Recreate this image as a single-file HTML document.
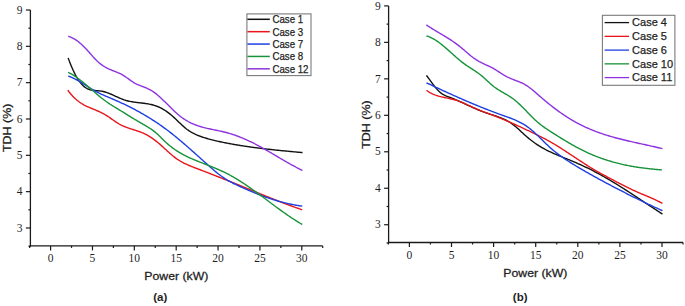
<!DOCTYPE html>
<html><head><meta charset="utf-8"><style>
html,body{margin:0;padding:0;background:#fff;width:685px;height:306px;overflow:hidden}
svg{display:block;font-family:"Liberation Sans",sans-serif}
</style></head><body>
<svg width="685" height="306" viewBox="0 0 685 306">
<rect width="685" height="306" fill="#fff"/>
<path d="M30.40,10.00 V246.55" stroke="#1a1a1a" stroke-width="1.3" fill="none"/>
<path d="M29.75,245.90 H322.70" stroke="#1a1a1a" stroke-width="1.3" fill="none"/>
<path d="M25.90,10.00 H30.40" stroke="#1a1a1a" stroke-width="1.2"/>
<text x="22.60" y="13.70" font-size="11.5" text-anchor="end" fill="#1f1f1f" font-family="Liberation Serif">9</text>
<path d="M28.40,28.16 H30.40" stroke="#1a1a1a" stroke-width="1.2"/>
<path d="M25.90,46.33 H30.40" stroke="#1a1a1a" stroke-width="1.2"/>
<text x="22.60" y="50.03" font-size="11.5" text-anchor="end" fill="#1f1f1f" font-family="Liberation Serif">8</text>
<path d="M28.40,64.50 H30.40" stroke="#1a1a1a" stroke-width="1.2"/>
<path d="M25.90,82.66 H30.40" stroke="#1a1a1a" stroke-width="1.2"/>
<text x="22.60" y="86.36" font-size="11.5" text-anchor="end" fill="#1f1f1f" font-family="Liberation Serif">7</text>
<path d="M28.40,100.82 H30.40" stroke="#1a1a1a" stroke-width="1.2"/>
<path d="M25.90,118.99 H30.40" stroke="#1a1a1a" stroke-width="1.2"/>
<text x="22.60" y="122.69" font-size="11.5" text-anchor="end" fill="#1f1f1f" font-family="Liberation Serif">6</text>
<path d="M28.40,137.16 H30.40" stroke="#1a1a1a" stroke-width="1.2"/>
<path d="M25.90,155.32 H30.40" stroke="#1a1a1a" stroke-width="1.2"/>
<text x="22.60" y="159.02" font-size="11.5" text-anchor="end" fill="#1f1f1f" font-family="Liberation Serif">5</text>
<path d="M28.40,173.48 H30.40" stroke="#1a1a1a" stroke-width="1.2"/>
<path d="M25.90,191.65 H30.40" stroke="#1a1a1a" stroke-width="1.2"/>
<text x="22.60" y="195.35" font-size="11.5" text-anchor="end" fill="#1f1f1f" font-family="Liberation Serif">4</text>
<path d="M28.40,209.81 H30.40" stroke="#1a1a1a" stroke-width="1.2"/>
<path d="M25.90,227.98 H30.40" stroke="#1a1a1a" stroke-width="1.2"/>
<text x="22.60" y="231.68" font-size="11.5" text-anchor="end" fill="#1f1f1f" font-family="Liberation Serif">3</text>
<path d="M28.40,246.14 H30.40" stroke="#1a1a1a" stroke-width="1.2"/>
<path d="M29.67,245.90 V247.90" stroke="#1a1a1a" stroke-width="1.2"/>
<path d="M50.60,245.90 V250.40" stroke="#1a1a1a" stroke-width="1.2"/>
<text x="50.60" y="261.90" font-size="11.5" text-anchor="middle" fill="#1f1f1f" font-family="Liberation Serif">0</text>
<path d="M71.53,245.90 V247.90" stroke="#1a1a1a" stroke-width="1.2"/>
<path d="M92.47,245.90 V250.40" stroke="#1a1a1a" stroke-width="1.2"/>
<text x="92.47" y="261.90" font-size="11.5" text-anchor="middle" fill="#1f1f1f" font-family="Liberation Serif">5</text>
<path d="M113.40,245.90 V247.90" stroke="#1a1a1a" stroke-width="1.2"/>
<path d="M134.33,245.90 V250.40" stroke="#1a1a1a" stroke-width="1.2"/>
<text x="134.33" y="261.90" font-size="11.5" text-anchor="middle" fill="#1f1f1f" font-family="Liberation Serif">10</text>
<path d="M155.26,245.90 V247.90" stroke="#1a1a1a" stroke-width="1.2"/>
<path d="M176.19,245.90 V250.40" stroke="#1a1a1a" stroke-width="1.2"/>
<text x="176.19" y="261.90" font-size="11.5" text-anchor="middle" fill="#1f1f1f" font-family="Liberation Serif">15</text>
<path d="M197.13,245.90 V247.90" stroke="#1a1a1a" stroke-width="1.2"/>
<path d="M218.06,245.90 V250.40" stroke="#1a1a1a" stroke-width="1.2"/>
<text x="218.06" y="261.90" font-size="11.5" text-anchor="middle" fill="#1f1f1f" font-family="Liberation Serif">20</text>
<path d="M238.99,245.90 V247.90" stroke="#1a1a1a" stroke-width="1.2"/>
<path d="M259.93,245.90 V250.40" stroke="#1a1a1a" stroke-width="1.2"/>
<text x="259.93" y="261.90" font-size="11.5" text-anchor="middle" fill="#1f1f1f" font-family="Liberation Serif">25</text>
<path d="M280.86,245.90 V247.90" stroke="#1a1a1a" stroke-width="1.2"/>
<path d="M301.79,245.90 V250.40" stroke="#1a1a1a" stroke-width="1.2"/>
<text x="301.79" y="261.90" font-size="11.5" text-anchor="middle" fill="#1f1f1f" font-family="Liberation Serif">30</text>
<path d="M322.72,245.90 V247.90" stroke="#1a1a1a" stroke-width="1.2"/>
<g transform="translate(0.25,0.4)"><path d="M67.90,57.49 L68.90,60.22 L69.90,62.82 L70.90,65.30 L71.90,67.66 L72.90,69.89 L73.90,71.99 L74.90,73.97 L75.90,75.83 L76.90,77.56 L77.90,79.17 L78.90,80.65 L79.90,82.01 L80.90,83.24 L81.90,84.35 L82.90,85.34 L83.90,86.21 L84.90,86.96 L85.90,87.60 L86.90,88.16 L87.90,88.62 L88.90,89.00 L89.90,89.32 L90.90,89.57 L91.90,89.78 L92.90,89.94 L93.90,90.06 L94.90,90.16 L95.90,90.24 L96.90,90.32 L97.90,90.39 L98.90,90.48 L99.90,90.58 L100.90,90.71 L101.90,90.88 L102.90,91.09 L103.90,91.33 L104.90,91.61 L105.90,91.93 L106.90,92.27 L107.90,92.64 L108.90,93.03 L109.90,93.44 L110.90,93.86 L111.90,94.30 L112.90,94.75 L113.90,95.20 L114.90,95.66 L115.90,96.12 L116.90,96.58 L117.90,97.03 L118.90,97.47 L119.90,97.90 L120.90,98.32 L121.90,98.71 L122.90,99.09 L123.90,99.44 L124.90,99.76 L125.90,100.06 L126.90,100.33 L127.90,100.58 L128.90,100.81 L129.90,101.01 L130.90,101.21 L131.90,101.38 L132.90,101.54 L133.90,101.69 L134.90,101.83 L135.90,101.96 L136.90,102.09 L137.90,102.21 L138.90,102.32 L139.90,102.44 L140.90,102.55 L141.90,102.67 L142.90,102.80 L143.90,102.92 L144.90,103.06 L145.90,103.21 L146.90,103.36 L147.90,103.53 L148.90,103.72 L149.90,103.92 L150.90,104.14 L151.90,104.38 L152.90,104.65 L153.90,104.93 L154.90,105.25 L155.90,105.59 L156.90,105.96 L157.90,106.36 L158.90,106.80 L159.90,107.27 L160.90,107.77 L161.90,108.31 L162.90,108.88 L163.90,109.48 L164.90,110.12 L165.90,110.78 L166.90,111.48 L167.90,112.21 L168.90,112.98 L169.90,113.77 L170.90,114.59 L171.90,115.44 L172.90,116.32 L173.90,117.22 L174.90,118.15 L175.90,119.10 L176.90,120.06 L177.90,121.03 L178.90,121.99 L179.90,122.95 L180.90,123.90 L181.90,124.83 L182.90,125.74 L183.90,126.62 L184.90,127.47 L185.90,128.28 L186.90,129.05 L187.90,129.77 L188.90,130.46 L189.90,131.10 L190.90,131.71 L191.90,132.28 L192.90,132.82 L193.90,133.33 L194.90,133.81 L195.90,134.26 L196.90,134.70 L197.90,135.11 L198.90,135.50 L199.90,135.87 L200.90,136.22 L201.90,136.57 L202.90,136.90 L203.90,137.22 L204.90,137.54 L205.90,137.84 L206.90,138.14 L207.90,138.43 L208.90,138.70 L209.90,138.98 L210.90,139.24 L211.90,139.50 L212.90,139.75 L213.90,139.99 L214.90,140.23 L215.90,140.46 L216.90,140.69 L217.90,140.91 L218.90,141.13 L219.90,141.35 L220.90,141.56 L221.90,141.77 L222.90,141.97 L223.90,142.17 L224.90,142.37 L225.90,142.57 L226.90,142.76 L227.90,142.95 L228.90,143.14 L229.90,143.33 L230.90,143.51 L231.90,143.69 L232.90,143.87 L233.90,144.05 L234.90,144.22 L235.90,144.39 L236.90,144.56 L237.90,144.73 L238.90,144.89 L239.90,145.05 L240.90,145.21 L241.90,145.37 L242.90,145.53 L243.90,145.68 L244.90,145.83 L245.90,145.98 L246.90,146.13 L247.90,146.27 L248.90,146.41 L249.90,146.56 L250.90,146.69 L251.90,146.83 L252.90,146.97 L253.90,147.10 L254.90,147.23 L255.90,147.36 L256.90,147.49 L257.90,147.62 L258.90,147.75 L259.90,147.87 L260.90,147.99 L261.90,148.11 L262.90,148.23 L263.90,148.35 L264.90,148.47 L265.90,148.59 L266.90,148.70 L267.90,148.81 L268.90,148.92 L269.90,149.04 L270.90,149.15 L271.90,149.25 L272.90,149.36 L273.90,149.47 L274.90,149.57 L275.90,149.68 L276.90,149.78 L277.90,149.88 L278.90,149.98 L279.90,150.08 L280.90,150.18 L281.90,150.28 L282.90,150.38 L283.90,150.48 L284.90,150.58 L285.90,150.67 L286.90,150.77 L287.90,150.86 L288.90,150.96 L289.90,151.05 L290.90,151.15 L291.90,151.24 L292.90,151.33 L293.90,151.43 L294.90,151.52 L295.90,151.61 L296.90,151.70 L297.90,151.80 L298.90,151.89 L299.90,151.98 L300.90,152.07 L301.90,152.16 L302.30,152.20" stroke="#111111" stroke-width="1.40" fill="none" stroke-linejoin="round" stroke-linecap="butt"/>
<path d="M67.50,89.79 L68.50,91.10 L69.50,92.34 L70.50,93.53 L71.50,94.67 L72.50,95.75 L73.50,96.78 L74.50,97.75 L75.50,98.68 L76.50,99.56 L77.50,100.38 L78.50,101.16 L79.50,101.90 L80.50,102.58 L81.50,103.23 L82.50,103.83 L83.50,104.40 L84.50,104.94 L85.50,105.44 L86.50,105.93 L87.50,106.39 L88.50,106.83 L89.50,107.26 L90.50,107.68 L91.50,108.09 L92.50,108.50 L93.50,108.91 L94.50,109.32 L95.50,109.74 L96.50,110.16 L97.50,110.60 L98.50,111.04 L99.50,111.50 L100.50,111.98 L101.50,112.48 L102.50,112.99 L103.50,113.53 L104.50,114.09 L105.50,114.68 L106.50,115.30 L107.50,115.95 L108.50,116.62 L109.50,117.30 L110.50,118.00 L111.50,118.70 L112.50,119.40 L113.50,120.10 L114.50,120.79 L115.50,121.46 L116.50,122.12 L117.50,122.75 L118.50,123.35 L119.50,123.92 L120.50,124.45 L121.50,124.95 L122.50,125.42 L123.50,125.86 L124.50,126.28 L125.50,126.68 L126.50,127.06 L127.50,127.42 L128.50,127.77 L129.50,128.10 L130.50,128.43 L131.50,128.75 L132.50,129.06 L133.50,129.38 L134.50,129.69 L135.50,130.01 L136.50,130.34 L137.50,130.67 L138.50,131.02 L139.50,131.38 L140.50,131.76 L141.50,132.15 L142.50,132.57 L143.50,133.01 L144.50,133.47 L145.50,133.97 L146.50,134.50 L147.50,135.05 L148.50,135.64 L149.50,136.25 L150.50,136.89 L151.50,137.55 L152.50,138.24 L153.50,138.96 L154.50,139.70 L155.50,140.46 L156.50,141.25 L157.50,142.06 L158.50,142.88 L159.50,143.73 L160.50,144.60 L161.50,145.49 L162.50,146.40 L163.50,147.31 L164.50,148.24 L165.50,149.17 L166.50,150.09 L167.50,151.01 L168.50,151.92 L169.50,152.81 L170.50,153.69 L171.50,154.54 L172.50,155.38 L173.50,156.18 L174.50,156.96 L175.50,157.71 L176.50,158.43 L177.50,159.11 L178.50,159.76 L179.50,160.38 L180.50,160.98 L181.50,161.54 L182.50,162.09 L183.50,162.61 L184.50,163.11 L185.50,163.59 L186.50,164.05 L187.50,164.50 L188.50,164.93 L189.50,165.35 L190.50,165.76 L191.50,166.16 L192.50,166.55 L193.50,166.94 L194.50,167.33 L195.50,167.71 L196.50,168.09 L197.50,168.47 L198.50,168.86 L199.50,169.24 L200.50,169.62 L201.50,170.01 L202.50,170.39 L203.50,170.78 L204.50,171.16 L205.50,171.55 L206.50,171.94 L207.50,172.32 L208.50,172.71 L209.50,173.10 L210.50,173.49 L211.50,173.88 L212.50,174.27 L213.50,174.66 L214.50,175.05 L215.50,175.44 L216.50,175.83 L217.50,176.22 L218.50,176.62 L219.50,177.01 L220.50,177.40 L221.50,177.80 L222.50,178.19 L223.50,178.59 L224.50,178.99 L225.50,179.38 L226.50,179.78 L227.50,180.18 L228.50,180.58 L229.50,180.98 L230.50,181.38 L231.50,181.78 L232.50,182.19 L233.50,182.59 L234.50,182.99 L235.50,183.40 L236.50,183.80 L237.50,184.21 L238.50,184.62 L239.50,185.03 L240.50,185.43 L241.50,185.84 L242.50,186.25 L243.50,186.66 L244.50,187.07 L245.50,187.48 L246.50,187.89 L247.50,188.30 L248.50,188.71 L249.50,189.12 L250.50,189.53 L251.50,189.94 L252.50,190.35 L253.50,190.76 L254.50,191.17 L255.50,191.58 L256.50,191.99 L257.50,192.40 L258.50,192.81 L259.50,193.22 L260.50,193.63 L261.50,194.04 L262.50,194.44 L263.50,194.85 L264.50,195.25 L265.50,195.66 L266.50,196.06 L267.50,196.46 L268.50,196.86 L269.50,197.27 L270.50,197.67 L271.50,198.06 L272.50,198.46 L273.50,198.86 L274.50,199.25 L275.50,199.64 L276.50,200.04 L277.50,200.43 L278.50,200.82 L279.50,201.20 L280.50,201.59 L281.50,201.97 L282.50,202.36 L283.50,202.74 L284.50,203.12 L285.50,203.49 L286.50,203.87 L287.50,204.24 L288.50,204.61 L289.50,204.98 L290.50,205.35 L291.50,205.71 L292.50,206.08 L293.50,206.44 L294.50,206.79 L295.50,207.15 L296.50,207.50 L297.50,207.85 L298.50,208.20 L299.50,208.55 L300.50,208.89 L301.50,209.23 L302.00,209.40" stroke="#e8161b" stroke-width="1.40" fill="none" stroke-linejoin="round" stroke-linecap="butt"/>
<path d="M67.90,75.70 L68.90,76.01 L69.90,76.37 L70.90,76.75 L71.90,77.17 L72.90,77.62 L73.90,78.10 L74.90,78.61 L75.90,79.13 L76.90,79.68 L77.90,80.25 L78.90,80.84 L79.90,81.44 L80.90,82.05 L81.90,82.67 L82.90,83.30 L83.90,83.94 L84.90,84.58 L85.90,85.22 L86.90,85.86 L87.90,86.49 L88.90,87.12 L89.90,87.75 L90.90,88.36 L91.90,88.96 L92.90,89.54 L93.90,90.11 L94.90,90.66 L95.90,91.19 L96.90,91.71 L97.90,92.22 L98.90,92.71 L99.90,93.19 L100.90,93.66 L101.90,94.12 L102.90,94.57 L103.90,95.01 L104.90,95.45 L105.90,95.88 L106.90,96.31 L107.90,96.73 L108.90,97.15 L109.90,97.58 L110.90,98.00 L111.90,98.42 L112.90,98.85 L113.90,99.28 L114.90,99.71 L115.90,100.15 L116.90,100.59 L117.90,101.04 L118.90,101.49 L119.90,101.94 L120.90,102.40 L121.90,102.87 L122.90,103.33 L123.90,103.81 L124.90,104.29 L125.90,104.77 L126.90,105.26 L127.90,105.75 L128.90,106.24 L129.90,106.75 L130.90,107.25 L131.90,107.77 L132.90,108.29 L133.90,108.81 L134.90,109.34 L135.90,109.87 L136.90,110.41 L137.90,110.96 L138.90,111.51 L139.90,112.07 L140.90,112.63 L141.90,113.20 L142.90,113.78 L143.90,114.36 L144.90,114.95 L145.90,115.54 L146.90,116.15 L147.90,116.75 L148.90,117.37 L149.90,117.99 L150.90,118.62 L151.90,119.25 L152.90,119.89 L153.90,120.54 L154.90,121.20 L155.90,121.86 L156.90,122.53 L157.90,123.21 L158.90,123.89 L159.90,124.59 L160.90,125.28 L161.90,125.99 L162.90,126.71 L163.90,127.43 L164.90,128.16 L165.90,128.90 L166.90,129.65 L167.90,130.40 L168.90,131.17 L169.90,131.94 L170.90,132.72 L171.90,133.50 L172.90,134.30 L173.90,135.10 L174.90,135.91 L175.90,136.72 L176.90,137.54 L177.90,138.37 L178.90,139.20 L179.90,140.04 L180.90,140.89 L181.90,141.74 L182.90,142.59 L183.90,143.45 L184.90,144.31 L185.90,145.18 L186.90,146.05 L187.90,146.92 L188.90,147.80 L189.90,148.68 L190.90,149.57 L191.90,150.45 L192.90,151.34 L193.90,152.23 L194.90,153.12 L195.90,154.02 L196.90,154.91 L197.90,155.81 L198.90,156.70 L199.90,157.60 L200.90,158.50 L201.90,159.40 L202.90,160.29 L203.90,161.19 L204.90,162.09 L205.90,162.98 L206.90,163.87 L207.90,164.77 L208.90,165.66 L209.90,166.54 L210.90,167.43 L211.90,168.30 L212.90,169.17 L213.90,170.03 L214.90,170.88 L215.90,171.71 L216.90,172.53 L217.90,173.33 L218.90,174.11 L219.90,174.87 L220.90,175.60 L221.90,176.32 L222.90,177.02 L223.90,177.69 L224.90,178.34 L225.90,178.98 L226.90,179.59 L227.90,180.18 L228.90,180.75 L229.90,181.30 L230.90,181.83 L231.90,182.35 L232.90,182.85 L233.90,183.35 L234.90,183.83 L235.90,184.30 L236.90,184.77 L237.90,185.23 L238.90,185.69 L239.90,186.14 L240.90,186.60 L241.90,187.05 L242.90,187.50 L243.90,187.94 L244.90,188.39 L245.90,188.83 L246.90,189.27 L247.90,189.70 L248.90,190.13 L249.90,190.56 L250.90,190.98 L251.90,191.40 L252.90,191.82 L253.90,192.23 L254.90,192.64 L255.90,193.05 L256.90,193.45 L257.90,193.84 L258.90,194.23 L259.90,194.62 L260.90,195.00 L261.90,195.38 L262.90,195.75 L263.90,196.12 L264.90,196.48 L265.90,196.83 L266.90,197.18 L267.90,197.53 L268.90,197.87 L269.90,198.20 L270.90,198.53 L271.90,198.85 L272.90,199.16 L273.90,199.47 L274.90,199.78 L275.90,200.07 L276.90,200.36 L277.90,200.65 L278.90,200.93 L279.90,201.20 L280.90,201.47 L281.90,201.73 L282.90,201.99 L283.90,202.24 L284.90,202.49 L285.90,202.73 L286.90,202.96 L287.90,203.19 L288.90,203.41 L289.90,203.63 L290.90,203.84 L291.90,204.04 L292.90,204.24 L293.90,204.44 L294.90,204.62 L295.90,204.81 L296.90,204.98 L297.90,205.15 L298.90,205.32 L299.90,205.48 L300.90,205.63 L301.90,205.78 L302.00,205.80" stroke="#1d3fe2" stroke-width="1.40" fill="none" stroke-linejoin="round" stroke-linecap="butt"/>
<path d="M67.90,71.89 L68.90,72.38 L69.90,72.89 L70.90,73.44 L71.90,74.02 L72.90,74.63 L73.90,75.26 L74.90,75.92 L75.90,76.61 L76.90,77.32 L77.90,78.05 L78.90,78.80 L79.90,79.57 L80.90,80.36 L81.90,81.16 L82.90,81.97 L83.90,82.80 L84.90,83.64 L85.90,84.49 L86.90,85.35 L87.90,86.21 L88.90,87.08 L89.90,87.95 L90.90,88.82 L91.90,89.70 L92.90,90.57 L93.90,91.44 L94.90,92.30 L95.90,93.16 L96.90,94.02 L97.90,94.86 L98.90,95.70 L99.90,96.52 L100.90,97.33 L101.90,98.12 L102.90,98.90 L103.90,99.66 L104.90,100.40 L105.90,101.12 L106.90,101.82 L107.90,102.51 L108.90,103.18 L109.90,103.83 L110.90,104.48 L111.90,105.11 L112.90,105.73 L113.90,106.35 L114.90,106.96 L115.90,107.57 L116.90,108.17 L117.90,108.77 L118.90,109.38 L119.90,109.98 L120.90,110.59 L121.90,111.21 L122.90,111.82 L123.90,112.44 L124.90,113.06 L125.90,113.68 L126.90,114.30 L127.90,114.92 L128.90,115.54 L129.90,116.16 L130.90,116.77 L131.90,117.39 L132.90,118.00 L133.90,118.61 L134.90,119.21 L135.90,119.81 L136.90,120.41 L137.90,121.00 L138.90,121.58 L139.90,122.16 L140.90,122.74 L141.90,123.31 L142.90,123.88 L143.90,124.45 L144.90,125.04 L145.90,125.63 L146.90,126.23 L147.90,126.84 L148.90,127.48 L149.90,128.13 L150.90,128.80 L151.90,129.50 L152.90,130.22 L153.90,130.98 L154.90,131.77 L155.90,132.59 L156.90,133.45 L157.90,134.36 L158.90,135.30 L159.90,136.28 L160.90,137.29 L161.90,138.31 L162.90,139.32 L163.90,140.30 L164.90,141.26 L165.90,142.19 L166.90,143.09 L167.90,143.96 L168.90,144.80 L169.90,145.62 L170.90,146.41 L171.90,147.17 L172.90,147.92 L173.90,148.64 L174.90,149.33 L175.90,150.01 L176.90,150.66 L177.90,151.29 L178.90,151.91 L179.90,152.50 L180.90,153.08 L181.90,153.64 L182.90,154.19 L183.90,154.72 L184.90,155.23 L185.90,155.74 L186.90,156.23 L187.90,156.70 L188.90,157.17 L189.90,157.62 L190.90,158.07 L191.90,158.51 L192.90,158.94 L193.90,159.36 L194.90,159.78 L195.90,160.19 L196.90,160.59 L197.90,160.99 L198.90,161.39 L199.90,161.79 L200.90,162.18 L201.90,162.57 L202.90,162.97 L203.90,163.36 L204.90,163.75 L205.90,164.14 L206.90,164.53 L207.90,164.93 L208.90,165.32 L209.90,165.72 L210.90,166.12 L211.90,166.53 L212.90,166.93 L213.90,167.35 L214.90,167.76 L215.90,168.18 L216.90,168.61 L217.90,169.04 L218.90,169.48 L219.90,169.93 L220.90,170.38 L221.90,170.84 L222.90,171.31 L223.90,171.79 L224.90,172.27 L225.90,172.77 L226.90,173.27 L227.90,173.79 L228.90,174.32 L229.90,174.85 L230.90,175.40 L231.90,175.96 L232.90,176.53 L233.90,177.11 L234.90,177.70 L235.90,178.30 L236.90,178.90 L237.90,179.52 L238.90,180.14 L239.90,180.77 L240.90,181.41 L241.90,182.06 L242.90,182.72 L243.90,183.38 L244.90,184.05 L245.90,184.72 L246.90,185.40 L247.90,186.09 L248.90,186.78 L249.90,187.48 L250.90,188.18 L251.90,188.89 L252.90,189.60 L253.90,190.32 L254.90,191.04 L255.90,191.76 L256.90,192.49 L257.90,193.22 L258.90,193.95 L259.90,194.69 L260.90,195.42 L261.90,196.16 L262.90,196.90 L263.90,197.65 L264.90,198.39 L265.90,199.13 L266.90,199.88 L267.90,200.62 L268.90,201.37 L269.90,202.11 L270.90,202.86 L271.90,203.60 L272.90,204.34 L273.90,205.08 L274.90,205.82 L275.90,206.55 L276.90,207.29 L277.90,208.02 L278.90,208.75 L279.90,209.47 L280.90,210.19 L281.90,210.91 L282.90,211.63 L283.90,212.34 L284.90,213.04 L285.90,213.74 L286.90,214.44 L287.90,215.13 L288.90,215.81 L289.90,216.49 L290.90,217.16 L291.90,217.82 L292.90,218.48 L293.90,219.13 L294.90,219.77 L295.90,220.41 L296.90,221.04 L297.90,221.66 L298.90,222.27 L299.90,222.87 L300.90,223.46 L301.90,224.05 L302.00,224.10" stroke="#17933a" stroke-width="1.40" fill="none" stroke-linejoin="round" stroke-linecap="butt"/>
<path d="M67.90,35.91 L68.90,36.18 L69.90,36.52 L70.90,36.92 L71.90,37.37 L72.90,37.87 L73.90,38.43 L74.90,39.04 L75.90,39.70 L76.90,40.41 L77.90,41.16 L78.90,41.95 L79.90,42.79 L80.90,43.67 L81.90,44.58 L82.90,45.53 L83.90,46.52 L84.90,47.54 L85.90,48.59 L86.90,49.67 L87.90,50.77 L88.90,51.91 L89.90,53.05 L90.90,54.21 L91.90,55.36 L92.90,56.49 L93.90,57.60 L94.90,58.67 L95.90,59.70 L96.90,60.67 L97.90,61.58 L98.90,62.44 L99.90,63.25 L100.90,64.01 L101.90,64.72 L102.90,65.40 L103.90,66.03 L104.90,66.62 L105.90,67.17 L106.90,67.70 L107.90,68.19 L108.90,68.66 L109.90,69.10 L110.90,69.53 L111.90,69.94 L112.90,70.34 L113.90,70.74 L114.90,71.14 L115.90,71.54 L116.90,71.95 L117.90,72.38 L118.90,72.83 L119.90,73.30 L120.90,73.80 L121.90,74.33 L122.90,74.90 L123.90,75.51 L124.90,76.17 L125.90,76.86 L126.90,77.57 L127.90,78.29 L128.90,79.02 L129.90,79.75 L130.90,80.46 L131.90,81.14 L132.90,81.79 L133.90,82.39 L134.90,82.94 L135.90,83.45 L136.90,83.93 L137.90,84.37 L138.90,84.79 L139.90,85.19 L140.90,85.57 L141.90,85.95 L142.90,86.33 L143.90,86.70 L144.90,87.09 L145.90,87.50 L146.90,87.93 L147.90,88.38 L148.90,88.87 L149.90,89.39 L150.90,89.97 L151.90,90.59 L152.90,91.25 L153.90,91.96 L154.90,92.71 L155.90,93.49 L156.90,94.31 L157.90,95.16 L158.90,96.03 L159.90,96.93 L160.90,97.86 L161.90,98.80 L162.90,99.76 L163.90,100.74 L164.90,101.72 L165.90,102.71 L166.90,103.71 L167.90,104.71 L168.90,105.71 L169.90,106.71 L170.90,107.69 L171.90,108.67 L172.90,109.64 L173.90,110.59 L174.90,111.53 L175.90,112.44 L176.90,113.33 L177.90,114.19 L178.90,115.02 L179.90,115.82 L180.90,116.59 L181.90,117.32 L182.90,118.03 L183.90,118.70 L184.90,119.34 L185.90,119.95 L186.90,120.54 L187.90,121.10 L188.90,121.63 L189.90,122.14 L190.90,122.63 L191.90,123.09 L192.90,123.53 L193.90,123.95 L194.90,124.35 L195.90,124.73 L196.90,125.09 L197.90,125.44 L198.90,125.77 L199.90,126.08 L200.90,126.38 L201.90,126.67 L202.90,126.94 L203.90,127.20 L204.90,127.46 L205.90,127.70 L206.90,127.93 L207.90,128.16 L208.90,128.38 L209.90,128.60 L210.90,128.81 L211.90,129.02 L212.90,129.22 L213.90,129.43 L214.90,129.63 L215.90,129.83 L216.90,130.04 L217.90,130.24 L218.90,130.45 L219.90,130.67 L220.90,130.88 L221.90,131.11 L222.90,131.34 L223.90,131.58 L224.90,131.83 L225.90,132.09 L226.90,132.36 L227.90,132.64 L228.90,132.93 L229.90,133.22 L230.90,133.53 L231.90,133.85 L232.90,134.18 L233.90,134.52 L234.90,134.86 L235.90,135.22 L236.90,135.58 L237.90,135.96 L238.90,136.34 L239.90,136.73 L240.90,137.13 L241.90,137.54 L242.90,137.96 L243.90,138.39 L244.90,138.82 L245.90,139.26 L246.90,139.71 L247.90,140.17 L248.90,140.64 L249.90,141.11 L250.90,141.59 L251.90,142.08 L252.90,142.58 L253.90,143.09 L254.90,143.60 L255.90,144.12 L256.90,144.64 L257.90,145.18 L258.90,145.71 L259.90,146.26 L260.90,146.81 L261.90,147.36 L262.90,147.92 L263.90,148.49 L264.90,149.06 L265.90,149.63 L266.90,150.20 L267.90,150.78 L268.90,151.36 L269.90,151.95 L270.90,152.53 L271.90,153.12 L272.90,153.71 L273.90,154.30 L274.90,154.89 L275.90,155.48 L276.90,156.07 L277.90,156.67 L278.90,157.26 L279.90,157.84 L280.90,158.43 L281.90,159.02 L282.90,159.60 L283.90,160.18 L284.90,160.76 L285.90,161.34 L286.90,161.91 L287.90,162.48 L288.90,163.05 L289.90,163.61 L290.90,164.16 L291.90,164.71 L292.90,165.26 L293.90,165.80 L294.90,166.33 L295.90,166.85 L296.90,167.37 L297.90,167.89 L298.90,168.39 L299.90,168.89 L300.90,169.38 L301.90,169.86 L302.20,170.00" stroke="#8e33e0" stroke-width="1.40" fill="none" stroke-linejoin="round" stroke-linecap="butt"/></g>
<rect x="246.90" y="13.90" width="64.10" height="61.70" fill="#fff" stroke="#7a7a7a" stroke-width="1.1"/>
<path d="M247.40,19.30 H269.80" stroke="#111111" stroke-width="1.50"/>
<text x="272.40" y="23.20" font-size="10.40" textLength="30.73" lengthAdjust="spacingAndGlyphs" fill="#1f1f1f" stroke="#1f1f1f" stroke-width="0.25">Case 1</text>
<path d="M247.40,31.68 H269.80" stroke="#e8161b" stroke-width="1.50"/>
<text x="272.40" y="35.58" font-size="10.40" textLength="30.73" lengthAdjust="spacingAndGlyphs" fill="#1f1f1f" stroke="#1f1f1f" stroke-width="0.25">Case 3</text>
<path d="M247.40,44.06 H269.80" stroke="#1d3fe2" stroke-width="1.50"/>
<text x="272.40" y="47.96" font-size="10.40" textLength="30.73" lengthAdjust="spacingAndGlyphs" fill="#1f1f1f" stroke="#1f1f1f" stroke-width="0.25">Case 7</text>
<path d="M247.40,56.44 H269.80" stroke="#17933a" stroke-width="1.50"/>
<text x="272.40" y="60.34" font-size="10.40" textLength="30.73" lengthAdjust="spacingAndGlyphs" fill="#1f1f1f" stroke="#1f1f1f" stroke-width="0.25">Case 8</text>
<path d="M247.40,68.82 H269.80" stroke="#8e33e0" stroke-width="1.50"/>
<text x="272.40" y="72.72" font-size="10.40" textLength="36.12" lengthAdjust="spacingAndGlyphs" fill="#1f1f1f" stroke="#1f1f1f" stroke-width="0.25">Case 12</text>
<text x="176.35" y="279.70" font-size="11.60" text-anchor="middle" textLength="64.00" lengthAdjust="spacingAndGlyphs" fill="#1f1f1f" stroke="#1f1f1f" stroke-width="0.30">Power (kW)</text>
<text x="160.2" y="301.2" font-size="11.5" font-weight="bold" text-anchor="middle" fill="#1f1f1f">(a)</text>
<text transform="translate(10.60,127.75) rotate(-90)" x="0" y="0" font-size="11.60" text-anchor="middle" textLength="48.50" lengthAdjust="spacingAndGlyphs" fill="#1f1f1f" stroke="#1f1f1f" stroke-width="0.30">TDH (%)</text>
<path d="M388.60,5.90 V243.15" stroke="#1a1a1a" stroke-width="1.3" fill="none"/>
<path d="M387.95,242.50 H683.00" stroke="#1a1a1a" stroke-width="1.3" fill="none"/>
<path d="M384.10,5.90 H388.60" stroke="#1a1a1a" stroke-width="1.2"/>
<text x="380.80" y="9.60" font-size="11.5" text-anchor="end" fill="#1f1f1f" font-family="Liberation Serif">9</text>
<path d="M386.60,24.13 H388.60" stroke="#1a1a1a" stroke-width="1.2"/>
<path d="M384.10,42.37 H388.60" stroke="#1a1a1a" stroke-width="1.2"/>
<text x="380.80" y="46.07" font-size="11.5" text-anchor="end" fill="#1f1f1f" font-family="Liberation Serif">8</text>
<path d="M386.60,60.60 H388.60" stroke="#1a1a1a" stroke-width="1.2"/>
<path d="M384.10,78.84 H388.60" stroke="#1a1a1a" stroke-width="1.2"/>
<text x="380.80" y="82.54" font-size="11.5" text-anchor="end" fill="#1f1f1f" font-family="Liberation Serif">7</text>
<path d="M386.60,97.08 H388.60" stroke="#1a1a1a" stroke-width="1.2"/>
<path d="M384.10,115.31 H388.60" stroke="#1a1a1a" stroke-width="1.2"/>
<text x="380.80" y="119.01" font-size="11.5" text-anchor="end" fill="#1f1f1f" font-family="Liberation Serif">6</text>
<path d="M386.60,133.54 H388.60" stroke="#1a1a1a" stroke-width="1.2"/>
<path d="M384.10,151.78 H388.60" stroke="#1a1a1a" stroke-width="1.2"/>
<text x="380.80" y="155.48" font-size="11.5" text-anchor="end" fill="#1f1f1f" font-family="Liberation Serif">5</text>
<path d="M386.60,170.02 H388.60" stroke="#1a1a1a" stroke-width="1.2"/>
<path d="M384.10,188.25 H388.60" stroke="#1a1a1a" stroke-width="1.2"/>
<text x="380.80" y="191.95" font-size="11.5" text-anchor="end" fill="#1f1f1f" font-family="Liberation Serif">4</text>
<path d="M386.60,206.48 H388.60" stroke="#1a1a1a" stroke-width="1.2"/>
<path d="M384.10,224.72 H388.60" stroke="#1a1a1a" stroke-width="1.2"/>
<text x="380.80" y="228.42" font-size="11.5" text-anchor="end" fill="#1f1f1f" font-family="Liberation Serif">3</text>
<path d="M386.60,242.96 H388.60" stroke="#1a1a1a" stroke-width="1.2"/>
<path d="M388.35,242.50 V244.50" stroke="#1a1a1a" stroke-width="1.2"/>
<path d="M409.40,242.50 V247.00" stroke="#1a1a1a" stroke-width="1.2"/>
<text x="409.40" y="258.50" font-size="11.5" text-anchor="middle" fill="#1f1f1f" font-family="Liberation Serif">0</text>
<path d="M430.45,242.50 V244.50" stroke="#1a1a1a" stroke-width="1.2"/>
<path d="M451.50,242.50 V247.00" stroke="#1a1a1a" stroke-width="1.2"/>
<text x="451.50" y="258.50" font-size="11.5" text-anchor="middle" fill="#1f1f1f" font-family="Liberation Serif">5</text>
<path d="M472.55,242.50 V244.50" stroke="#1a1a1a" stroke-width="1.2"/>
<path d="M493.60,242.50 V247.00" stroke="#1a1a1a" stroke-width="1.2"/>
<text x="493.60" y="258.50" font-size="11.5" text-anchor="middle" fill="#1f1f1f" font-family="Liberation Serif">10</text>
<path d="M514.65,242.50 V244.50" stroke="#1a1a1a" stroke-width="1.2"/>
<path d="M535.70,242.50 V247.00" stroke="#1a1a1a" stroke-width="1.2"/>
<text x="535.70" y="258.50" font-size="11.5" text-anchor="middle" fill="#1f1f1f" font-family="Liberation Serif">15</text>
<path d="M556.75,242.50 V244.50" stroke="#1a1a1a" stroke-width="1.2"/>
<path d="M577.80,242.50 V247.00" stroke="#1a1a1a" stroke-width="1.2"/>
<text x="577.80" y="258.50" font-size="11.5" text-anchor="middle" fill="#1f1f1f" font-family="Liberation Serif">20</text>
<path d="M598.85,242.50 V244.50" stroke="#1a1a1a" stroke-width="1.2"/>
<path d="M619.90,242.50 V247.00" stroke="#1a1a1a" stroke-width="1.2"/>
<text x="619.90" y="258.50" font-size="11.5" text-anchor="middle" fill="#1f1f1f" font-family="Liberation Serif">25</text>
<path d="M640.95,242.50 V244.50" stroke="#1a1a1a" stroke-width="1.2"/>
<path d="M662.00,242.50 V247.00" stroke="#1a1a1a" stroke-width="1.2"/>
<text x="662.00" y="258.50" font-size="11.5" text-anchor="middle" fill="#1f1f1f" font-family="Liberation Serif">30</text>
<path d="M683.05,242.50 V244.50" stroke="#1a1a1a" stroke-width="1.2"/>
<g transform="translate(0.25,0.4)"><path d="M426.20,74.99 L427.20,76.31 L428.20,77.66 L429.20,79.03 L430.20,80.41 L431.20,81.78 L432.20,83.15 L433.20,84.49 L434.20,85.79 L435.20,87.05 L436.20,88.25 L437.20,89.38 L438.20,90.43 L439.20,91.39 L440.20,92.24 L441.20,93.00 L442.20,93.67 L443.20,94.26 L444.20,94.78 L445.20,95.25 L446.20,95.68 L447.20,96.08 L448.20,96.45 L449.20,96.82 L450.20,97.19 L451.20,97.58 L452.20,97.97 L453.20,98.37 L454.20,98.78 L455.20,99.20 L456.20,99.63 L457.20,100.06 L458.20,100.50 L459.20,100.95 L460.20,101.40 L461.20,101.86 L462.20,102.32 L463.20,102.78 L464.20,103.24 L465.20,103.71 L466.20,104.17 L467.20,104.64 L468.20,105.11 L469.20,105.57 L470.20,106.03 L471.20,106.49 L472.20,106.95 L473.20,107.40 L474.20,107.85 L475.20,108.29 L476.20,108.73 L477.20,109.16 L478.20,109.58 L479.20,110.00 L480.20,110.40 L481.20,110.80 L482.20,111.19 L483.20,111.56 L484.20,111.93 L485.20,112.28 L486.20,112.62 L487.20,112.95 L488.20,113.28 L489.20,113.60 L490.20,113.92 L491.20,114.23 L492.20,114.55 L493.20,114.87 L494.20,115.19 L495.20,115.52 L496.20,115.85 L497.20,116.20 L498.20,116.56 L499.20,116.92 L500.20,117.31 L501.20,117.71 L502.20,118.13 L503.20,118.56 L504.20,119.02 L505.20,119.51 L506.20,120.01 L507.20,120.55 L508.20,121.11 L509.20,121.71 L510.20,122.34 L511.20,123.00 L512.20,123.70 L513.20,124.43 L514.20,125.21 L515.20,126.03 L516.20,126.88 L517.20,127.77 L518.20,128.68 L519.20,129.60 L520.20,130.54 L521.20,131.49 L522.20,132.43 L523.20,133.36 L524.20,134.28 L525.20,135.18 L526.20,136.06 L527.20,136.92 L528.20,137.76 L529.20,138.57 L530.20,139.37 L531.20,140.15 L532.20,140.91 L533.20,141.65 L534.20,142.37 L535.20,143.07 L536.20,143.75 L537.20,144.42 L538.20,145.06 L539.20,145.68 L540.20,146.29 L541.20,146.88 L542.20,147.46 L543.20,148.02 L544.20,148.57 L545.20,149.10 L546.20,149.62 L547.20,150.13 L548.20,150.63 L549.20,151.11 L550.20,151.59 L551.20,152.05 L552.20,152.51 L553.20,152.96 L554.20,153.40 L555.20,153.83 L556.20,154.26 L557.20,154.68 L558.20,155.10 L559.20,155.51 L560.20,155.92 L561.20,156.32 L562.20,156.73 L563.20,157.13 L564.20,157.53 L565.20,157.94 L566.20,158.34 L567.20,158.74 L568.20,159.15 L569.20,159.55 L570.20,159.97 L571.20,160.38 L572.20,160.80 L573.20,161.22 L574.20,161.65 L575.20,162.08 L576.20,162.51 L577.20,162.95 L578.20,163.40 L579.20,163.84 L580.20,164.29 L581.20,164.75 L582.20,165.21 L583.20,165.68 L584.20,166.15 L585.20,166.62 L586.20,167.10 L587.20,167.58 L588.20,168.07 L589.20,168.57 L590.20,169.06 L591.20,169.57 L592.20,170.08 L593.20,170.59 L594.20,171.11 L595.20,171.64 L596.20,172.17 L597.20,172.70 L598.20,173.24 L599.20,173.79 L600.20,174.34 L601.20,174.89 L602.20,175.45 L603.20,176.02 L604.20,176.59 L605.20,177.16 L606.20,177.74 L607.20,178.32 L608.20,178.90 L609.20,179.49 L610.20,180.09 L611.20,180.68 L612.20,181.29 L613.20,181.89 L614.20,182.50 L615.20,183.11 L616.20,183.72 L617.20,184.34 L618.20,184.96 L619.20,185.59 L620.20,186.21 L621.20,186.84 L622.20,187.48 L623.20,188.11 L624.20,188.75 L625.20,189.39 L626.20,190.03 L627.20,190.67 L628.20,191.32 L629.20,191.96 L630.20,192.61 L631.20,193.26 L632.20,193.92 L633.20,194.57 L634.20,195.23 L635.20,195.88 L636.20,196.54 L637.20,197.20 L638.20,197.86 L639.20,198.52 L640.20,199.18 L641.20,199.84 L642.20,200.51 L643.20,201.17 L644.20,201.83 L645.20,202.49 L646.20,203.16 L647.20,203.82 L648.20,204.49 L649.20,205.15 L650.20,205.81 L651.20,206.47 L652.20,207.14 L653.20,207.80 L654.20,208.46 L655.20,209.12 L656.20,209.78 L657.20,210.43 L658.20,211.09 L659.20,211.75 L660.20,212.40 L661.20,213.05 L662.20,213.70 L662.20,213.70" stroke="#111111" stroke-width="1.40" fill="none" stroke-linejoin="round" stroke-linecap="butt"/>
<path d="M426.20,89.90 L427.20,90.61 L428.20,91.27 L429.20,91.88 L430.20,92.45 L431.20,92.97 L432.20,93.45 L433.20,93.90 L434.20,94.31 L435.20,94.69 L436.20,95.04 L437.20,95.36 L438.20,95.66 L439.20,95.93 L440.20,96.19 L441.20,96.43 L442.20,96.66 L443.20,96.88 L444.20,97.09 L445.20,97.29 L446.20,97.49 L447.20,97.70 L448.20,97.90 L449.20,98.11 L450.20,98.33 L451.20,98.56 L452.20,98.80 L453.20,99.05 L454.20,99.33 L455.20,99.63 L456.20,99.95 L457.20,100.29 L458.20,100.65 L459.20,101.02 L460.20,101.42 L461.20,101.82 L462.20,102.24 L463.20,102.67 L464.20,103.11 L465.20,103.56 L466.20,104.01 L467.20,104.46 L468.20,104.92 L469.20,105.38 L470.20,105.84 L471.20,106.30 L472.20,106.76 L473.20,107.20 L474.20,107.65 L475.20,108.08 L476.20,108.50 L477.20,108.92 L478.20,109.33 L479.20,109.73 L480.20,110.13 L481.20,110.52 L482.20,110.91 L483.20,111.29 L484.20,111.67 L485.20,112.05 L486.20,112.42 L487.20,112.80 L488.20,113.17 L489.20,113.54 L490.20,113.92 L491.20,114.29 L492.20,114.67 L493.20,115.05 L494.20,115.44 L495.20,115.83 L496.20,116.22 L497.20,116.61 L498.20,117.01 L499.20,117.42 L500.20,117.82 L501.20,118.24 L502.20,118.65 L503.20,119.07 L504.20,119.49 L505.20,119.91 L506.20,120.34 L507.20,120.77 L508.20,121.20 L509.20,121.63 L510.20,122.07 L511.20,122.51 L512.20,122.96 L513.20,123.40 L514.20,123.85 L515.20,124.30 L516.20,124.75 L517.20,125.21 L518.20,125.67 L519.20,126.12 L520.20,126.59 L521.20,127.05 L522.20,127.51 L523.20,127.98 L524.20,128.44 L525.20,128.91 L526.20,129.38 L527.20,129.86 L528.20,130.33 L529.20,130.80 L530.20,131.28 L531.20,131.75 L532.20,132.23 L533.20,132.71 L534.20,133.20 L535.20,133.69 L536.20,134.17 L537.20,134.67 L538.20,135.17 L539.20,135.67 L540.20,136.17 L541.20,136.68 L542.20,137.20 L543.20,137.72 L544.20,138.24 L545.20,138.77 L546.20,139.31 L547.20,139.85 L548.20,140.40 L549.20,140.96 L550.20,141.52 L551.20,142.09 L552.20,142.67 L553.20,143.26 L554.20,143.85 L555.20,144.45 L556.20,145.06 L557.20,145.68 L558.20,146.30 L559.20,146.93 L560.20,147.56 L561.20,148.20 L562.20,148.84 L563.20,149.48 L564.20,150.13 L565.20,150.78 L566.20,151.44 L567.20,152.09 L568.20,152.75 L569.20,153.41 L570.20,154.07 L571.20,154.73 L572.20,155.38 L573.20,156.04 L574.20,156.70 L575.20,157.36 L576.20,158.02 L577.20,158.68 L578.20,159.33 L579.20,159.99 L580.20,160.65 L581.20,161.30 L582.20,161.95 L583.20,162.60 L584.20,163.25 L585.20,163.90 L586.20,164.55 L587.20,165.19 L588.20,165.82 L589.20,166.45 L590.20,167.08 L591.20,167.69 L592.20,168.30 L593.20,168.90 L594.20,169.49 L595.20,170.08 L596.20,170.64 L597.20,171.21 L598.20,171.76 L599.20,172.30 L600.20,172.85 L601.20,173.39 L602.20,173.92 L603.20,174.46 L604.20,175.00 L605.20,175.53 L606.20,176.07 L607.20,176.61 L608.20,177.15 L609.20,177.68 L610.20,178.22 L611.20,178.75 L612.20,179.29 L613.20,179.82 L614.20,180.35 L615.20,180.88 L616.20,181.41 L617.20,181.94 L618.20,182.46 L619.20,182.98 L620.20,183.50 L621.20,184.02 L622.20,184.53 L623.20,185.04 L624.20,185.54 L625.20,186.05 L626.20,186.54 L627.20,187.04 L628.20,187.53 L629.20,188.01 L630.20,188.49 L631.20,188.96 L632.20,189.43 L633.20,189.90 L634.20,190.36 L635.20,190.81 L636.20,191.26 L637.20,191.70 L638.20,192.13 L639.20,192.56 L640.20,192.99 L641.20,193.41 L642.20,193.84 L643.20,194.26 L644.20,194.68 L645.20,195.10 L646.20,195.52 L647.20,195.94 L648.20,196.36 L649.20,196.79 L650.20,197.22 L651.20,197.65 L652.20,198.09 L653.20,198.53 L654.20,198.98 L655.20,199.44 L656.20,199.90 L657.20,200.38 L658.20,200.86 L659.20,201.35 L660.20,201.86 L661.20,202.37 L662.20,202.90 L662.20,202.90" stroke="#e8161b" stroke-width="1.40" fill="none" stroke-linejoin="round" stroke-linecap="butt"/>
<path d="M426.20,82.39 L427.20,82.87 L428.20,83.35 L429.20,83.82 L430.20,84.30 L431.20,84.77 L432.20,85.24 L433.20,85.72 L434.20,86.19 L435.20,86.66 L436.20,87.13 L437.20,87.60 L438.20,88.06 L439.20,88.53 L440.20,88.99 L441.20,89.46 L442.20,89.92 L443.20,90.38 L444.20,90.84 L445.20,91.30 L446.20,91.76 L447.20,92.22 L448.20,92.67 L449.20,93.13 L450.20,93.58 L451.20,94.03 L452.20,94.48 L453.20,94.93 L454.20,95.38 L455.20,95.83 L456.20,96.27 L457.20,96.71 L458.20,97.16 L459.20,97.60 L460.20,98.04 L461.20,98.47 L462.20,98.91 L463.20,99.35 L464.20,99.78 L465.20,100.21 L466.20,100.64 L467.20,101.07 L468.20,101.49 L469.20,101.92 L470.20,102.34 L471.20,102.76 L472.20,103.18 L473.20,103.60 L474.20,104.02 L475.20,104.43 L476.20,104.85 L477.20,105.26 L478.20,105.67 L479.20,106.07 L480.20,106.48 L481.20,106.88 L482.20,107.28 L483.20,107.68 L484.20,108.08 L485.20,108.47 L486.20,108.87 L487.20,109.26 L488.20,109.65 L489.20,110.04 L490.20,110.42 L491.20,110.80 L492.20,111.18 L493.20,111.56 L494.20,111.94 L495.20,112.31 L496.20,112.69 L497.20,113.06 L498.20,113.42 L499.20,113.79 L500.20,114.15 L501.20,114.51 L502.20,114.87 L503.20,115.22 L504.20,115.58 L505.20,115.93 L506.20,116.29 L507.20,116.64 L508.20,117.00 L509.20,117.37 L510.20,117.74 L511.20,118.12 L512.20,118.51 L513.20,118.91 L514.20,119.32 L515.20,119.75 L516.20,120.19 L517.20,120.65 L518.20,121.12 L519.20,121.61 L520.20,122.13 L521.20,122.66 L522.20,123.22 L523.20,123.80 L524.20,124.41 L525.20,125.05 L526.20,125.72 L527.20,126.41 L528.20,127.14 L529.20,127.90 L530.20,128.69 L531.20,129.52 L532.20,130.37 L533.20,131.25 L534.20,132.15 L535.20,133.07 L536.20,134.01 L537.20,134.96 L538.20,135.93 L539.20,136.90 L540.20,137.88 L541.20,138.87 L542.20,139.85 L543.20,140.84 L544.20,141.82 L545.20,142.79 L546.20,143.76 L547.20,144.71 L548.20,145.64 L549.20,146.56 L550.20,147.46 L551.20,148.34 L552.20,149.20 L553.20,150.04 L554.20,150.86 L555.20,151.66 L556.20,152.45 L557.20,153.22 L558.20,153.97 L559.20,154.71 L560.20,155.44 L561.20,156.15 L562.20,156.85 L563.20,157.54 L564.20,158.22 L565.20,158.90 L566.20,159.56 L567.20,160.21 L568.20,160.86 L569.20,161.50 L570.20,162.14 L571.20,162.77 L572.20,163.39 L573.20,164.01 L574.20,164.63 L575.20,165.24 L576.20,165.84 L577.20,166.45 L578.20,167.04 L579.20,167.64 L580.20,168.23 L581.20,168.81 L582.20,169.40 L583.20,169.97 L584.20,170.55 L585.20,171.12 L586.20,171.69 L587.20,172.26 L588.20,172.83 L589.20,173.39 L590.20,173.95 L591.20,174.51 L592.20,175.06 L593.20,175.62 L594.20,176.17 L595.20,176.72 L596.20,177.27 L597.20,177.82 L598.20,178.36 L599.20,178.91 L600.20,179.45 L601.20,180.00 L602.20,180.54 L603.20,181.08 L604.20,181.62 L605.20,182.15 L606.20,182.69 L607.20,183.22 L608.20,183.76 L609.20,184.29 L610.20,184.82 L611.20,185.35 L612.20,185.87 L613.20,186.40 L614.20,186.92 L615.20,187.45 L616.20,187.97 L617.20,188.49 L618.20,189.01 L619.20,189.52 L620.20,190.04 L621.20,190.55 L622.20,191.07 L623.20,191.58 L624.20,192.09 L625.20,192.60 L626.20,193.10 L627.20,193.61 L628.20,194.11 L629.20,194.61 L630.20,195.11 L631.20,195.61 L632.20,196.11 L633.20,196.61 L634.20,197.10 L635.20,197.59 L636.20,198.08 L637.20,198.57 L638.20,199.06 L639.20,199.55 L640.20,200.03 L641.20,200.52 L642.20,201.00 L643.20,201.48 L644.20,201.96 L645.20,202.44 L646.20,202.91 L647.20,203.39 L648.20,203.86 L649.20,204.33 L650.20,204.80 L651.20,205.27 L652.20,205.73 L653.20,206.20 L654.20,206.66 L655.20,207.12 L656.20,207.58 L657.20,208.04 L658.20,208.49 L659.20,208.95 L660.20,209.40 L661.20,209.85 L662.20,210.30 L662.20,210.30" stroke="#1d3fe2" stroke-width="1.40" fill="none" stroke-linejoin="round" stroke-linecap="butt"/>
<path d="M426.10,35.41 L427.10,35.71 L428.10,36.06 L429.10,36.45 L430.10,36.89 L431.10,37.36 L432.10,37.87 L433.10,38.42 L434.10,39.00 L435.10,39.62 L436.10,40.27 L437.10,40.94 L438.10,41.65 L439.10,42.38 L440.10,43.13 L441.10,43.91 L442.10,44.71 L443.10,45.53 L444.10,46.36 L445.10,47.21 L446.10,48.08 L447.10,48.95 L448.10,49.84 L449.10,50.73 L450.10,51.63 L451.10,52.53 L452.10,53.44 L453.10,54.34 L454.10,55.23 L455.10,56.13 L456.10,57.01 L457.10,57.88 L458.10,58.74 L459.10,59.58 L460.10,60.41 L461.10,61.22 L462.10,62.00 L463.10,62.76 L464.10,63.50 L465.10,64.21 L466.10,64.90 L467.10,65.57 L468.10,66.23 L469.10,66.87 L470.10,67.51 L471.10,68.15 L472.10,68.78 L473.10,69.43 L474.10,70.07 L475.10,70.74 L476.10,71.41 L477.10,72.11 L478.10,72.82 L479.10,73.57 L480.10,74.34 L481.10,75.14 L482.10,75.99 L483.10,76.86 L484.10,77.76 L485.10,78.67 L486.10,79.60 L487.10,80.53 L488.10,81.46 L489.10,82.37 L490.10,83.27 L491.10,84.15 L492.10,85.00 L493.10,85.81 L494.10,86.58 L495.10,87.31 L496.10,88.01 L497.10,88.68 L498.10,89.32 L499.10,89.95 L500.10,90.55 L501.10,91.14 L502.10,91.72 L503.10,92.29 L504.10,92.87 L505.10,93.44 L506.10,94.02 L507.10,94.61 L508.10,95.22 L509.10,95.84 L510.10,96.49 L511.10,97.16 L512.10,97.86 L513.10,98.60 L514.10,99.37 L515.10,100.18 L516.10,101.02 L517.10,101.90 L518.10,102.80 L519.10,103.72 L520.10,104.67 L521.10,105.64 L522.10,106.63 L523.10,107.63 L524.10,108.65 L525.10,109.67 L526.10,110.71 L527.10,111.75 L528.10,112.79 L529.10,113.82 L530.10,114.85 L531.10,115.87 L532.10,116.88 L533.10,117.87 L534.10,118.84 L535.10,119.79 L536.10,120.70 L537.10,121.59 L538.10,122.44 L539.10,123.26 L540.10,124.05 L541.10,124.82 L542.10,125.56 L543.10,126.28 L544.10,126.99 L545.10,127.68 L546.10,128.36 L547.10,129.03 L548.10,129.69 L549.10,130.35 L550.10,131.00 L551.10,131.64 L552.10,132.28 L553.10,132.91 L554.10,133.55 L555.10,134.18 L556.10,134.81 L557.10,135.44 L558.10,136.07 L559.10,136.69 L560.10,137.31 L561.10,137.93 L562.10,138.54 L563.10,139.15 L564.10,139.76 L565.10,140.36 L566.10,140.96 L567.10,141.55 L568.10,142.14 L569.10,142.73 L570.10,143.31 L571.10,143.88 L572.10,144.45 L573.10,145.02 L574.10,145.57 L575.10,146.13 L576.10,146.67 L577.10,147.21 L578.10,147.74 L579.10,148.27 L580.10,148.79 L581.10,149.30 L582.10,149.81 L583.10,150.31 L584.10,150.79 L585.10,151.28 L586.10,151.75 L587.10,152.22 L588.10,152.67 L589.10,153.12 L590.10,153.56 L591.10,154.00 L592.10,154.42 L593.10,154.84 L594.10,155.25 L595.10,155.66 L596.10,156.05 L597.10,156.44 L598.10,156.82 L599.10,157.19 L600.10,157.56 L601.10,157.92 L602.10,158.27 L603.10,158.62 L604.10,158.96 L605.10,159.29 L606.10,159.61 L607.10,159.93 L608.10,160.24 L609.10,160.55 L610.10,160.85 L611.10,161.14 L612.10,161.43 L613.10,161.71 L614.10,161.98 L615.10,162.25 L616.10,162.51 L617.10,162.77 L618.10,163.02 L619.10,163.27 L620.10,163.51 L621.10,163.74 L622.10,163.97 L623.10,164.19 L624.10,164.41 L625.10,164.62 L626.10,164.83 L627.10,165.03 L628.10,165.23 L629.10,165.42 L630.10,165.61 L631.10,165.79 L632.10,165.97 L633.10,166.15 L634.10,166.31 L635.10,166.48 L636.10,166.64 L637.10,166.80 L638.10,166.95 L639.10,167.10 L640.10,167.24 L641.10,167.38 L642.10,167.51 L643.10,167.65 L644.10,167.77 L645.10,167.90 L646.10,168.02 L647.10,168.14 L648.10,168.25 L649.10,168.36 L650.10,168.47 L651.10,168.57 L652.10,168.67 L653.10,168.77 L654.10,168.87 L655.10,168.96 L656.10,169.05 L657.10,169.13 L658.10,169.22 L659.10,169.30 L660.10,169.38 L661.10,169.45 L661.70,169.50" stroke="#17933a" stroke-width="1.40" fill="none" stroke-linejoin="round" stroke-linecap="butt"/>
<path d="M426.10,24.50 L427.10,25.18 L428.10,25.84 L429.10,26.49 L430.10,27.13 L431.10,27.77 L432.10,28.39 L433.10,29.00 L434.10,29.61 L435.10,30.22 L436.10,30.81 L437.10,31.41 L438.10,32.00 L439.10,32.59 L440.10,33.18 L441.10,33.78 L442.10,34.37 L443.10,34.97 L444.10,35.57 L445.10,36.17 L446.10,36.78 L447.10,37.40 L448.10,38.03 L449.10,38.66 L450.10,39.31 L451.10,39.96 L452.10,40.63 L453.10,41.31 L454.10,42.01 L455.10,42.72 L456.10,43.45 L457.10,44.19 L458.10,44.95 L459.10,45.73 L460.10,46.54 L461.10,47.36 L462.10,48.20 L463.10,49.06 L464.10,49.93 L465.10,50.80 L466.10,51.67 L467.10,52.54 L468.10,53.41 L469.10,54.25 L470.10,55.08 L471.10,55.89 L472.10,56.66 L473.10,57.41 L474.10,58.12 L475.10,58.80 L476.10,59.45 L477.10,60.06 L478.10,60.65 L479.10,61.22 L480.10,61.76 L481.10,62.28 L482.10,62.77 L483.10,63.25 L484.10,63.72 L485.10,64.18 L486.10,64.63 L487.10,65.09 L488.10,65.54 L489.10,66.01 L490.10,66.49 L491.10,66.99 L492.10,67.52 L493.10,68.06 L494.10,68.64 L495.10,69.24 L496.10,69.86 L497.10,70.49 L498.10,71.14 L499.10,71.79 L500.10,72.44 L501.10,73.09 L502.10,73.72 L503.10,74.35 L504.10,74.95 L505.10,75.53 L506.10,76.09 L507.10,76.61 L508.10,77.09 L509.10,77.56 L510.10,77.99 L511.10,78.41 L512.10,78.81 L513.10,79.20 L514.10,79.58 L515.10,79.95 L516.10,80.33 L517.10,80.71 L518.10,81.10 L519.10,81.50 L520.10,81.92 L521.10,82.36 L522.10,82.82 L523.10,83.31 L524.10,83.84 L525.10,84.40 L526.10,85.00 L527.10,85.64 L528.10,86.33 L529.10,87.05 L530.10,87.81 L531.10,88.59 L532.10,89.40 L533.10,90.24 L534.10,91.08 L535.10,91.95 L536.10,92.82 L537.10,93.70 L538.10,94.57 L539.10,95.45 L540.10,96.32 L541.10,97.19 L542.10,98.04 L543.10,98.89 L544.10,99.73 L545.10,100.57 L546.10,101.40 L547.10,102.22 L548.10,103.03 L549.10,103.84 L550.10,104.63 L551.10,105.42 L552.10,106.20 L553.10,106.98 L554.10,107.74 L555.10,108.50 L556.10,109.24 L557.10,109.98 L558.10,110.71 L559.10,111.43 L560.10,112.14 L561.10,112.84 L562.10,113.53 L563.10,114.22 L564.10,114.89 L565.10,115.55 L566.10,116.21 L567.10,116.85 L568.10,117.48 L569.10,118.10 L570.10,118.71 L571.10,119.32 L572.10,119.91 L573.10,120.49 L574.10,121.06 L575.10,121.62 L576.10,122.17 L577.10,122.70 L578.10,123.23 L579.10,123.75 L580.10,124.26 L581.10,124.77 L582.10,125.26 L583.10,125.74 L584.10,126.21 L585.10,126.68 L586.10,127.14 L587.10,127.59 L588.10,128.03 L589.10,128.46 L590.10,128.88 L591.10,129.30 L592.10,129.71 L593.10,130.11 L594.10,130.50 L595.10,130.89 L596.10,131.27 L597.10,131.64 L598.10,132.00 L599.10,132.36 L600.10,132.72 L601.10,133.06 L602.10,133.40 L603.10,133.74 L604.10,134.06 L605.10,134.39 L606.10,134.70 L607.10,135.02 L608.10,135.32 L609.10,135.62 L610.10,135.92 L611.10,136.21 L612.10,136.50 L613.10,136.78 L614.10,137.06 L615.10,137.33 L616.10,137.60 L617.10,137.87 L618.10,138.13 L619.10,138.39 L620.10,138.65 L621.10,138.90 L622.10,139.15 L623.10,139.39 L624.10,139.64 L625.10,139.88 L626.10,140.11 L627.10,140.35 L628.10,140.58 L629.10,140.81 L630.10,141.04 L631.10,141.27 L632.10,141.50 L633.10,141.72 L634.10,141.94 L635.10,142.17 L636.10,142.39 L637.10,142.61 L638.10,142.83 L639.10,143.05 L640.10,143.27 L641.10,143.48 L642.10,143.70 L643.10,143.92 L644.10,144.14 L645.10,144.36 L646.10,144.58 L647.10,144.80 L648.10,145.02 L649.10,145.24 L650.10,145.46 L651.10,145.69 L652.10,145.91 L653.10,146.14 L654.10,146.37 L655.10,146.60 L656.10,146.83 L657.10,147.07 L658.10,147.31 L659.10,147.55 L660.10,147.79 L661.10,148.03 L662.10,148.28 L662.20,148.31" stroke="#8e33e0" stroke-width="1.40" fill="none" stroke-linejoin="round" stroke-linecap="butt"/></g>
<rect x="602.40" y="15.30" width="72.50" height="70.00" fill="#fff" stroke="#7a7a7a" stroke-width="1.1"/>
<path d="M604.60,22.60 H629.10" stroke="#111111" stroke-width="1.30"/>
<text x="632.10" y="26.26" font-size="11.00" fill="#1f1f1f" stroke="#1f1f1f" stroke-width="0.25">Case 4</text>
<path d="M604.60,36.35 H629.10" stroke="#e8161b" stroke-width="1.30"/>
<text x="632.10" y="40.01" font-size="11.00" fill="#1f1f1f" stroke="#1f1f1f" stroke-width="0.25">Case 5</text>
<path d="M604.60,50.10 H629.10" stroke="#1d3fe2" stroke-width="1.30"/>
<text x="632.10" y="53.76" font-size="11.00" fill="#1f1f1f" stroke="#1f1f1f" stroke-width="0.25">Case 6</text>
<path d="M604.60,63.85 H629.10" stroke="#17933a" stroke-width="1.30"/>
<text x="632.10" y="67.51" font-size="11.00" fill="#1f1f1f" stroke="#1f1f1f" stroke-width="0.25">Case 10</text>
<path d="M604.60,77.60 H629.10" stroke="#8e33e0" stroke-width="1.30"/>
<text x="632.10" y="81.26" font-size="11.00" fill="#1f1f1f" stroke="#1f1f1f" stroke-width="0.25">Case 11</text>
<text x="535.30" y="277.30" font-size="11.60" text-anchor="middle" textLength="64.00" lengthAdjust="spacingAndGlyphs" fill="#1f1f1f" stroke="#1f1f1f" stroke-width="0.30">Power (kW)</text>
<text x="520.2" y="301.2" font-size="11.5" font-weight="bold" text-anchor="middle" fill="#1f1f1f">(b)</text>
<text transform="translate(369.60,124.50) rotate(-90)" x="0" y="0" font-size="11.60" text-anchor="middle" textLength="48.50" lengthAdjust="spacingAndGlyphs" fill="#1f1f1f" stroke="#1f1f1f" stroke-width="0.30">TDH (%)</text>
</svg>
</body></html>
